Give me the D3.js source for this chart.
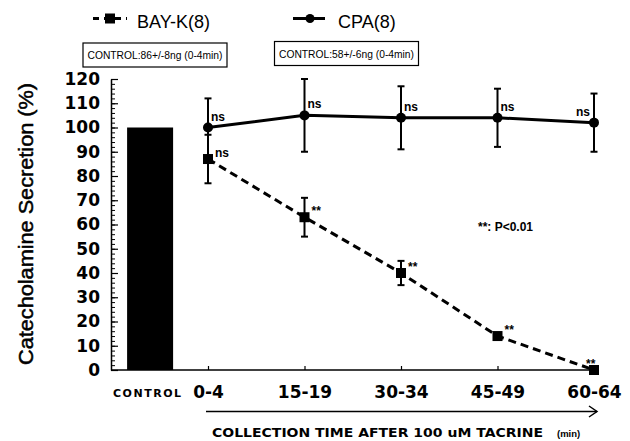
<!DOCTYPE html>
<html>
<head>
<meta charset="utf-8">
<script src="https://cdn.jsdelivr.net/npm/d3@7"></script>
<style>
  html, body { margin: 0; padding: 0; background: #fff; }
  svg { display: block; }
</style>
</head>
<body>
<svg id="chart" width="630" height="441"></svg>
<script>
// ---- data ----
const timeCategories = ["0-4", "15-19", "30-34", "45-49", "60-64"];
const controlLabel = "CONTROL";
const controlValue = 100;
const bayK = [87, 63, 40, 14, 0];
const bayKErr = [10, 8, 5, 1, 1];
const bayKSig = ["ns", "**", "**", "**", "**"];
const cpa = [100, 105, 104, 104, 102];
const cpaErr = [12, 15, 13, 12, 12];
const cpaSig = ["ns", "ns", "ns", "ns", "ns"];
const yTicks = [0, 10, 20, 30, 40, 50, 60, 70, 80, 90, 100, 110, 120];
const legendNames = ["BAY-K(8)", "CPA(8)"];
const controlNotes = ["CONTROL:86+/-8ng (0-4min)", "CONTROL:58+/-6ng (0-4min)"];

const svg = d3.select("#chart");
const BOLD = "'DejaVu Sans', sans-serif";
const SANS = "'Liberation Sans', Arial, sans-serif";

const y = d3.scaleLinear().domain([0, 120]).range([370, 79]);
const x = d3.scalePoint().domain(timeCategories).range([208, 594]);
const xControl = x(timeCategories[0]) - 0.6 * x.step();
const barW = 46;

// ---- y axis ----
const yAxis = d3.axisLeft(y).tickValues(yTicks).tickSizeInner(-7).tickSizeOuter(0).tickPadding(11);
const gy = svg.append("g").attr("transform", "translate(111,0)").call(yAxis);
gy.select(".domain").attr("stroke", "#000").attr("stroke-width", 1.5);
gy.selectAll(".tick line").attr("stroke", "#000").attr("stroke-width", 1.2);
gy.selectAll(".tick text").attr("font-family", BOLD).attr("font-weight", "bold")
  .attr("font-size", 17).attr("fill", "#000");
const yMinor = d3.axisLeft(y).tickValues(d3.range(0, 121, 2)).tickSize(-4).tickFormat("");
const gym = svg.append("g").attr("transform", "translate(111,0)").call(yMinor);
gym.select(".domain").remove();
gym.selectAll(".tick line").attr("stroke", "#000").attr("stroke-width", 1);

// ---- x axis ----
svg.append("line").attr("x1", 111).attr("x2", 598).attr("y1", y(0)).attr("y2", y(0))
  .attr("stroke", "#000").attr("stroke-width", 1.5);
const xAxis = d3.axisBottom(x).tickSizeInner(-4).tickSizeOuter(0).tickPadding(16);
const gx = svg.append("g").attr("transform", `translate(0,${y(0)})`).call(xAxis);
gx.select(".domain").remove();
gx.selectAll(".tick line").attr("stroke", "#000").attr("stroke-width", 1.2);
gx.selectAll(".tick text").attr("font-family", BOLD).attr("font-weight", "bold")
  .attr("font-size", 17).attr("fill", "#000");
svg.append("line").attr("x1", xControl).attr("x2", xControl).attr("y1", y(0)).attr("y2", y(0) - 4)
  .attr("stroke", "#000").attr("stroke-width", 1.2);
svg.append("text").attr("x", 113).attr("y", 397).attr("font-family", BOLD).attr("font-weight", "bold")
  .attr("font-size", 11).attr("textLength", 68).attr("lengthAdjust", "spacing").text(controlLabel);

// ---- control bar ----
svg.append("rect").attr("x", xControl - barW / 2).attr("y", y(controlValue))
  .attr("width", barW).attr("height", y(0) - y(controlValue)).attr("fill", "#000");

// ---- error bars ----
function errBars(vals, errs) {
  const g = svg.append("g").attr("stroke", "#000").attr("stroke-width", 2);
  vals.forEach((v, i) => {
    const cx = x(timeCategories[i]);
    g.append("line").attr("x1", cx).attr("x2", cx).attr("y1", y(v + errs[i])).attr("y2", y(v - errs[i]));
    [v + errs[i], v - errs[i]].forEach(e => {
      g.append("line").attr("x1", cx - 3.5).attr("x2", cx + 3.5).attr("y1", y(e)).attr("y2", y(e));
    });
  });
}
errBars(cpa, cpaErr);
errBars(bayK, bayKErr);

// ---- lines ----
const line = d3.line().x((d, i) => x(timeCategories[i])).y(d => y(d));
svg.append("path").datum(cpa).attr("d", line).attr("fill", "none").attr("stroke", "#000").attr("stroke-width", 3);
svg.append("path").datum(bayK).attr("d", line).attr("fill", "none").attr("stroke", "#000")
  .attr("stroke-width", 3).attr("stroke-dasharray", "8,5");

// ---- markers ----
svg.append("g").selectAll("circle").data(cpa).join("circle")
  .attr("cx", (d, i) => x(timeCategories[i])).attr("cy", d => y(d)).attr("r", 5).attr("fill", "#000");
svg.append("g").selectAll("rect").data(bayK).join("rect")
  .attr("x", (d, i) => x(timeCategories[i]) - 5).attr("y", d => y(d) - 5)
  .attr("width", 10).attr("height", 10).attr("fill", "#000");

// ---- significance labels ----
function sig(vals, labels, dx, dy, lastLeft) {
  svg.append("g").selectAll("text").data(vals).join("text")
    .attr("x", (d, i) => x(timeCategories[i]) + ((lastLeft && i === vals.length - 1) ? -lastLeft : dx))
    .attr("y", (d, i) => y(d) + dy)
    .attr("text-anchor", (d, i) => (lastLeft && i === vals.length - 1 && labels[i] === "ns") ? "end" : "start")
    .attr("font-family", SANS).attr("font-weight", "bold").attr("font-size", 12)
    .text((d, i) => labels[i]);
}
sig(cpa, cpaSig, 3, -7, 4);
sig(bayK, bayKSig, 7, -2, 8);

svg.append("text").attr("x", 478).attr("y", 231).attr("font-family", SANS).attr("font-weight", "bold")
  .attr("font-size", 12).text("**: P<0.01");

// ---- axis titles ----
svg.append("text").attr("transform", "translate(26,224) rotate(-90)").attr("text-anchor", "middle")
  .attr("dy", "0.35em").attr("font-family", SANS).attr("font-size", 20)
  .attr("stroke", "#000").attr("stroke-width", 0.5)
  .attr("textLength", 282).attr("lengthAdjust", "spacingAndGlyphs").text("Catecholamine Secretion (%)");

const xt = svg.append("text").attr("y", 437).attr("font-family", BOLD).attr("font-weight", "bold");
xt.append("tspan").attr("x", 212).attr("font-size", 13).attr("textLength", 331).attr("lengthAdjust", "spacingAndGlyphs")
  .text("COLLECTION TIME AFTER 100 uM TACRINE");
xt.append("tspan").attr("x", 557).attr("font-size", 9.5).attr("font-family", SANS).text("(min)");

// arrow
svg.append("line").attr("x1", 206).attr("x2", 597).attr("y1", 411.5).attr("y2", 411.5)
  .attr("stroke", "#000").attr("stroke-width", 1.5);
svg.append("path").attr("d", "M589,406 L597,411.5 L589,417").attr("fill", "none")
  .attr("stroke", "#000").attr("stroke-width", 1.5);

// ---- legend ----
const lg = svg.append("g");
lg.append("line").attr("x1", 93).attr("x2", 127).attr("y1", 18.5).attr("y2", 18.5)
  .attr("stroke", "#000").attr("stroke-width", 3).attr("stroke-dasharray", "6,5");
lg.append("rect").attr("x", 105).attr("y", 13.5).attr("width", 10).attr("height", 10).attr("fill", "#000");
lg.append("text").attr("x", 137).attr("y", 28).attr("font-family", SANS).attr("font-size", 18).text(legendNames[0]);
lg.append("line").attr("x1", 293).attr("x2", 325).attr("y1", 18.5).attr("y2", 18.5)
  .attr("stroke", "#000").attr("stroke-width", 3);
lg.append("circle").attr("cx", 310).attr("cy", 18.5).attr("r", 4.5).attr("fill", "#000");
lg.append("text").attr("x", 338).attr("y", 28).attr("font-family", SANS).attr("font-size", 18).text(legendNames[1]);

// control notes
[[83, 43, 144], [274.5, 41.5, 144]].forEach((b, i) => {
  svg.append("rect").attr("x", b[0]).attr("y", b[1]).attr("width", b[2]).attr("height", 24)
    .attr("fill", "none").attr("stroke", "#000").attr("stroke-width", 1.2);
  svg.append("text").attr("x", b[0] + 4.5).attr("y", b[1] + 16).attr("font-family", SANS)
    .attr("font-size", 10.5).attr("textLength", 135).attr("lengthAdjust", "spacingAndGlyphs").text(controlNotes[i]);
});
</script>
</body>
</html>
